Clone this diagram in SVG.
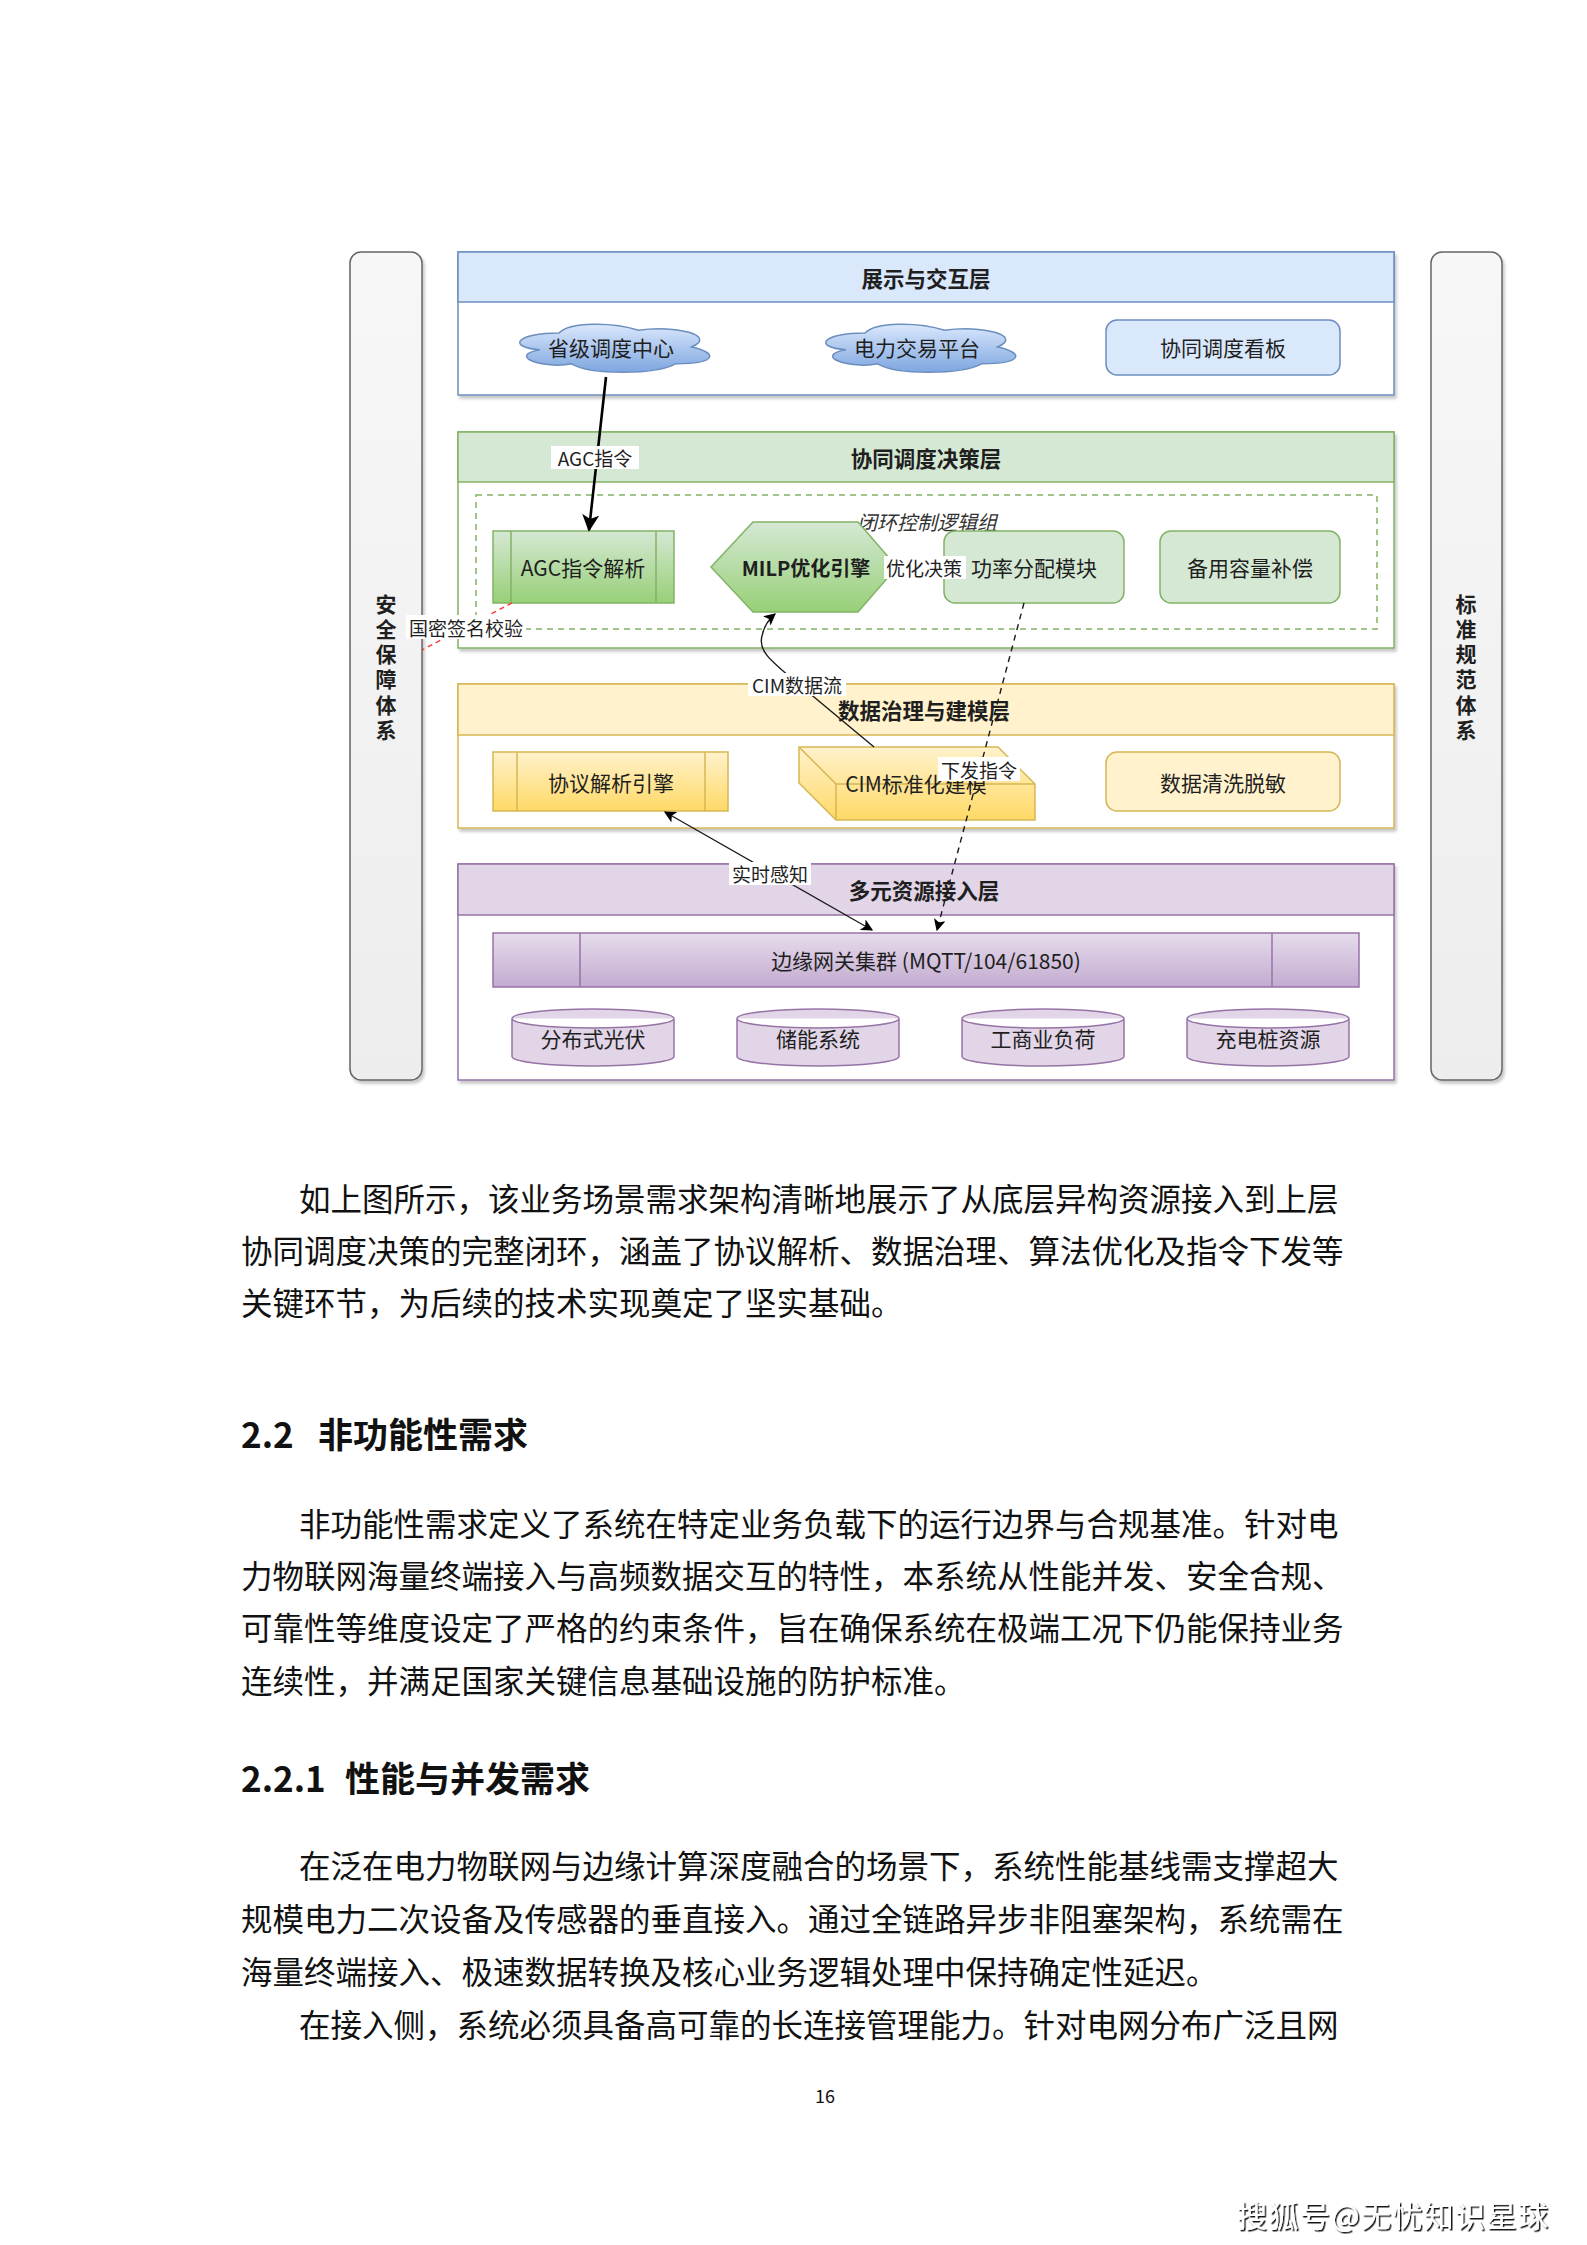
<svg xmlns="http://www.w3.org/2000/svg" width="1587" height="2245" viewBox="0 0 1587 2245">
<style>
.t{font-family:"Noto Sans CJK SC","Noto Sans","Liberation Sans",sans-serif;fill:#1f1f1f;text-anchor:middle;dominant-baseline:central}
.node{font-size:21px}
.title{font-size:21.5px;font-weight:bold}
.vt{font-size:21px;font-weight:bold;writing-mode:vertical-rl;letter-spacing:4.2px}
.lbl{font-size:19px}
.grp{font-size:20px;font-style:italic;fill:#333}
.body{font-family:"Noto Sans CJK SC","Noto Sans",sans-serif;font-size:31.5px;fill:#111;dominant-baseline:central}
.h{font-family:"Noto Sans CJK SC","Noto Sans",sans-serif;font-size:35px;font-weight:bold;fill:#111;dominant-baseline:central}
.bg{fill:#ffffff;stroke:none}
.bar{fill:url(#gBar);stroke:#666;stroke-width:1.5}
.sh{filter:url(#shadow)}
.bluehd{fill:#dae8fc;stroke:#6c8ebf;stroke-width:1.5}
.blue{fill:#ffffff;stroke:#6c8ebf;stroke-width:1.5}
.greenhd{fill:#d5e8d4;stroke:#82b366;stroke-width:1.5}
.green{fill:#ffffff;stroke:#82b366;stroke-width:1.5}
.yelhd{fill:#fff2cc;stroke:#d6b656;stroke-width:1.5}
.yel{fill:#ffffff;stroke:#d6b656;stroke-width:1.5}
.purhd{fill:#e1d5e7;stroke:#9673a6;stroke-width:1.5}
.pur{fill:#ffffff;stroke:#9673a6;stroke-width:1.5}
.gbox{fill:#d5e8d4;stroke:#82b366;stroke-width:1.5}
.ggrad{fill:url(#gGreen);stroke:#82b366;stroke-width:1.5}
.ybox{fill:#fff2cc;stroke:#d6b656;stroke-width:1.5}
.ygrad{fill:url(#gYellow);stroke:#d6b656;stroke-width:1.5}
.pgrad{fill:url(#gPurple);stroke:#9673a6;stroke-width:1.5}
.cyl{fill:#e1d5e7;stroke:#9673a6;stroke-width:1.5}
.inner{fill:none;stroke-width:1.5}
.edge{fill:none;stroke:#1a1a1a;stroke-width:1.4}
</style>
<defs>
<linearGradient id="gGreen" x1="0" y1="0" x2="0" y2="1"><stop offset="0" stop-color="#d5e8d4"/><stop offset="1" stop-color="#97d077"/></linearGradient>
<linearGradient id="gYellow" x1="0" y1="0" x2="0" y2="1"><stop offset="0" stop-color="#fff2cc"/><stop offset="1" stop-color="#ffd966"/></linearGradient>
<linearGradient id="gPurple" x1="0" y1="0" x2="0" y2="1"><stop offset="0" stop-color="#e6dcec"/><stop offset="1" stop-color="#c3abd0"/></linearGradient>
<linearGradient id="gCloud" x1="0" y1="0" x2="0" y2="1"><stop offset="0" stop-color="#dae8fc"/><stop offset="1" stop-color="#7ea6e0"/></linearGradient>
<linearGradient id="gBar" x1="0" y1="0" x2="0" y2="1"><stop offset="0" stop-color="#f7f7f7"/><stop offset="1" stop-color="#ededed"/></linearGradient>
<filter id="shadow" x="-5%" y="-5%" width="115%" height="115%"><feDropShadow dx="2" dy="3" stdDeviation="1.5" flood-color="#000" flood-opacity="0.22"/></filter>
<filter id="tshadow" x="-5%" y="-20%" width="115%" height="150%"><feDropShadow dx="1.5" dy="1.5" stdDeviation="0.6" flood-color="#000" flood-opacity="0.9"/></filter>
<path id="cloud" d="M53,14 C10.6,14 0,28 33.9,30.8 C0,37 38.2,50.4 65.7,44.8 C84.8,56 148.4,56 169.6,44.8 C212,44.8 212,33.6 185.5,28 C212,16.8 169.6,5.6 132.5,11.2 C106,2.8 63.6,2.8 53,14 Z"/>
<marker id="arrBig" viewBox="0 0 10 10" refX="9" refY="5" markerWidth="17" markerHeight="17" markerUnits="userSpaceOnUse" orient="auto"><path d="M0,0 L10,5 L0,10 L2.5,5 z" fill="#000"/></marker>
<marker id="arr" viewBox="0 0 10 10" refX="9" refY="5" markerWidth="12" markerHeight="12" markerUnits="userSpaceOnUse" orient="auto-start-reverse"><path d="M0,0 L10,5 L0,10 L2.5,5 z" fill="#000"/></marker>
</defs>
<rect width="1587" height="2245" fill="#ffffff"/>

<!-- side bars -->
<g id="security-bar">
<rect class="bar sh" x="350" y="252" width="72" height="828" rx="11"/>
<text class="t vt" x="386" y="669">安全保障体系</text>
</g>
<g id="standard-bar">
<rect class="bar sh" x="1431" y="252" width="71" height="828" rx="11"/>
<text class="t vt" x="1466" y="669">标准规范体系</text>
</g>

<!-- layers -->
<g id="layer-presentation">
<rect class="blue sh" x="458" y="252" width="936" height="143"/>
<rect class="bluehd" x="458" y="252" width="936" height="50"/>
<text class="t title" x="926" y="277">展示与交互层</text>
</g>
<g id="layer-decision">
<rect class="green sh" x="458" y="432" width="936" height="216"/>
<rect class="greenhd" x="458" y="432" width="936" height="50"/>
<text class="t title" x="926" y="457">协同调度决策层</text>
</g>
<g id="layer-data">
<rect class="yel sh" x="458" y="684" width="936" height="144"/>
<rect class="yelhd" x="458" y="684" width="936" height="51"/>
<text class="t title" x="924" y="709">数据治理与建模层</text>
</g>
<g id="layer-access">
<rect class="pur sh" x="458" y="864" width="936" height="216"/>
<rect class="purhd" x="458" y="864" width="936" height="51"/>
<text class="t title" x="924" y="889">多元资源接入层</text>
</g>

<!-- presentation nodes -->
<g id="node-province">
<use href="#cloud" x="506" y="319" fill="url(#gCloud)" stroke="#6c8ebf" stroke-width="1.5"/>
<text class="t node" x="611" y="347">省级调度中心</text>
</g>
<g id="node-market">
<use href="#cloud" x="812" y="319" fill="url(#gCloud)" stroke="#6c8ebf" stroke-width="1.5"/>
<text class="t node" x="917" y="347">电力交易平台</text>
</g>
<g id="node-board">
<rect class="bluehd" x="1106" y="320" width="234" height="55" rx="11"/>
<text class="t node" x="1223" y="347">协同调度看板</text>
</g>

<!-- decision nodes -->
<g id="group-closed-loop">
<rect x="476" y="495" width="901" height="134" fill="none" stroke="#82b366" stroke-width="1.5" stroke-dasharray="6 5"/>
<text class="t grp" x="927" y="521">闭环控制逻辑组</text>
</g>
<g id="node-agc-parse">
<rect class="ggrad" x="493" y="531" width="181" height="72"/>
<path class="inner" stroke="#82b366" d="M511,531 V603 M656,531 V603"/>
<text class="t node" x="583" y="567">AGC指令解析</text>
</g>
<g id="node-milp">
<polygon class="ggrad" points="711,567 753,522 858,522 897,567 858,612 753,612"/>
<text class="t" x="806" y="567" style="font-size:20px;font-weight:bold">MILP优化引擎</text>
</g>
<g id="node-power">
<rect class="gbox" x="944" y="531" width="180" height="72" rx="11"/>
<text class="t node" x="1034" y="567">功率分配模块</text>
</g>
<g id="node-reserve">
<rect class="gbox" x="1160" y="531" width="180" height="72" rx="11"/>
<text class="t node" x="1250" y="567">备用容量补偿</text>
</g>

<!-- data nodes -->
<g id="node-protocol">
<rect class="ygrad" x="493" y="752" width="235" height="59"/>
<path class="inner" stroke="#d6b656" d="M517,752 V811 M705,752 V811"/>
<text class="t node" x="611" y="782">协议解析引擎</text>
</g>
<g id="node-cim">
<path class="ygrad" d="M799,747 H998 L1035,784 V820 H836 L799,783 Z"/>
<path class="inner" stroke="#d6b656" d="M799,747 L836,784 H1035 M836,784 V820"/>
<text class="t node" x="916" y="783">CIM标准化建模</text>
</g>
<g id="node-clean">
<rect class="ybox" x="1106" y="752" width="234" height="59" rx="11"/>
<text class="t node" x="1223" y="782">数据清洗脱敏</text>
</g>

<!-- access nodes -->
<g id="node-gateway">
<rect class="pgrad" x="493" y="933" width="866" height="54"/>
<path class="inner" stroke="#9673a6" d="M580,933 V987 M1272,933 V987"/>
<text class="t node" x="926" y="960">边缘网关集群 (MQTT/104/61850)</text>
</g>
<g id="node-pv">
<path class="cyl" d="M512,1018.5 A81,9.5 0 0 1 674,1018.5 V1056.5 A81,9.5 0 0 1 512,1056.5 Z M512,1018.5 A81,9.5 0 0 0 674,1018.5"/>
<text class="t node" x="593" y="1038">分布式光伏</text>
</g>
<g id="node-storage">
<path class="cyl" d="M737,1018.5 A81,9.5 0 0 1 899,1018.5 V1056.5 A81,9.5 0 0 1 737,1056.5 Z M737,1018.5 A81,9.5 0 0 0 899,1018.5"/>
<text class="t node" x="818" y="1038">储能系统</text>
</g>
<g id="node-load">
<path class="cyl" d="M962,1018.5 A81,9.5 0 0 1 1124,1018.5 V1056.5 A81,9.5 0 0 1 962,1056.5 Z M962,1018.5 A81,9.5 0 0 0 1124,1018.5"/>
<text class="t node" x="1043" y="1038">工商业负荷</text>
</g>
<g id="node-charging">
<path class="cyl" d="M1187,1018.5 A81,9.5 0 0 1 1349,1018.5 V1056.5 A81,9.5 0 0 1 1187,1056.5 Z M1187,1018.5 A81,9.5 0 0 0 1349,1018.5"/>
<text class="t node" x="1268" y="1038">充电桩资源</text>
</g>

<!-- connectors -->
<g id="connectors">
<line x1="606" y1="377" x2="589" y2="530" stroke="#000" stroke-width="2.6" marker-end="url(#arrBig)"/>
<rect class="bg" x="551" y="446" width="88" height="23"/>
<text class="t lbl" x="595" y="457">AGC指令</text>

<line x1="897" y1="567" x2="944" y2="567" class="edge"/>
<rect class="bg" x="884" y="556" width="82" height="23"/>
<text class="t lbl" x="924" y="567">优化决策</text>

<line x1="512" y1="603" x2="422" y2="650" stroke="#ff3333" stroke-width="1.4" stroke-dasharray="5 4"/>
<rect class="bg" x="406" y="615" width="120" height="24"/>
<text class="t lbl" x="466" y="627">国密签名校验</text>

<path class="edge" d="M874,747 L790,677 C770,660 758,650 762,636 C764,626 769,619 775,614" marker-end="url(#arr)"/>
<rect class="bg" x="748" y="673" width="98" height="23"/>
<text class="t lbl" x="797" y="684">CIM数据流</text>

<line x1="665" y1="812" x2="872" y2="930" class="edge" marker-start="url(#arr)" marker-end="url(#arr)"/>
<rect class="bg" x="729" y="862" width="82" height="23"/>
<text class="t lbl" x="770" y="873">实时感知</text>

<line x1="1024" y1="603" x2="937" y2="930" class="edge" stroke-dasharray="6 5" marker-end="url(#arr)"/>
<rect class="bg" x="938" y="757" width="82" height="24"/>
<text class="t lbl" x="979" y="769">下发指令</text>
</g>

<!-- body text -->
<g id="text">
<text class="body" x="299" y="1197">如上图所示，该业务场景需求架构清晰地展示了从底层异构资源接入到上层</text>
<text class="body" x="241" y="1249">协同调度决策的完整闭环，涵盖了协议解析、数据治理、算法优化及指令下发等</text>
<text class="body" x="241" y="1301">关键环节，为后续的技术实现奠定了坚实基础。</text>

<text class="h" x="241" y="1432">2.2<tspan x="318">非功能性需求</tspan></text>

<text class="body" x="299" y="1522">非功能性需求定义了系统在特定业务负载下的运行边界与合规基准。针对电</text>
<text class="body" x="241" y="1574">力物联网海量终端接入与高频数据交互的特性，本系统从性能并发、安全合规、</text>
<text class="body" x="241" y="1626">可靠性等维度设定了严格的约束条件，旨在确保系统在极端工况下仍能保持业务</text>
<text class="body" x="241" y="1679">连续性，并满足国家关键信息基础设施的防护标准。</text>

<text class="h" x="241" y="1776">2.2.1<tspan x="345">性能与并发需求</tspan></text>

<text class="body" x="299" y="1864">在泛在电力物联网与边缘计算深度融合的场景下，系统性能基线需支撑超大</text>
<text class="body" x="241" y="1917">规模电力二次设备及传感器的垂直接入。通过全链路异步非阻塞架构，系统需在</text>
<text class="body" x="241" y="1970">海量终端接入、极速数据转换及核心业务逻辑处理中保持确定性延迟。</text>
<text class="body" x="299" y="2023">在接入侧，系统必须具备高可靠的长连接管理能力。针对电网分布广泛且网</text>

<text class="t" x="825" y="2095" style="font-size:18px;fill:#111">16</text>
<text x="1237" y="2214" textLength="311" style="font-family:'Noto Sans CJK SC',sans-serif;font-size:30px;fill:#ffffff;dominant-baseline:central;filter:url(#tshadow)">搜狐号@无忧知识星球</text>
</g>
</svg>
